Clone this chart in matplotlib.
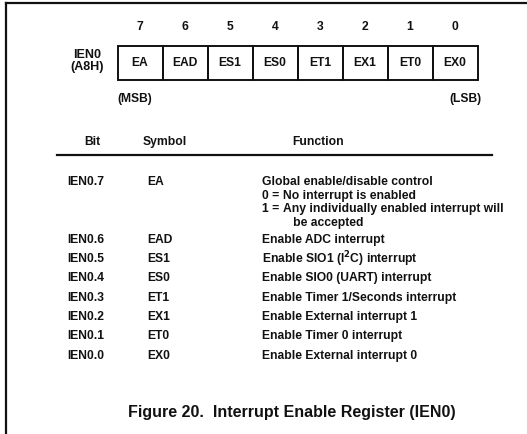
import matplotlib.pyplot as plt
from matplotlib.patches import Rectangle

plt.rcParams['font.family'] = ['Liberation Sans', 'DejaVu Sans']

# register layout data
bit_numbers = [7, 6, 5, 4, 3, 2, 1, 0]
bit_symbols = ['EA', 'EAD', 'ES1', 'ES0', 'ET1', 'EX1', 'ET0', 'EX0']
reg_name = 'IEN0\n(A8H)'

# table data
table_bits = ['IEN0.7', 'IEN0.6', 'IEN0.5', 'IEN0.4', 'IEN0.3', 'IEN0.2', 'IEN0.1', 'IEN0.0']
table_symbols = ['EA', 'EAD', 'ES1', 'ES0', 'ET1', 'EX1', 'ET0', 'EX0']
table_functions = [
    'Global enable/disable control',
    'Enable ADC interrupt',
    'Enable SIO1 (I$^{\\mathbf{2}}$C) interrupt',
    'Enable SIO0 (UART) interrupt',
    'Enable Timer 1/Seconds interrupt',
    'Enable External interrupt 1',
    'Enable Timer 0 interrupt',
    'Enable External interrupt 0',
]
ea_details = [('0 =', 'No interrupt is enabled'),
              ('1 =', 'Any individually enabled interrupt will'),
              ('', '   be accepted')]
caption = 'Figure 20.  Interrupt Enable Register (IEN0)'

ink = '#111111'
fs = 8.7

fig = plt.figure(figsize=(5.27, 4.34), dpi=100)
ax = fig.add_axes([0, 0, 1, 1])
ax.set_xlim(0, 527)
ax.set_ylim(434, 0)
ax.axis('off')

# frame: top and left edges only
ax.plot([5.5, 527], [3, 3], color=ink, lw=1.6)
ax.plot([5.5, 5.5], [3, 434], color=ink, lw=1.6)

# register box
cell_w = 45
box_x0 = 117.5
box_y0, box_y1 = 45.5, 80
for i, (num, sym) in enumerate(zip(bit_numbers, bit_symbols)):
    x0 = box_x0 + i * cell_w
    ax.add_patch(Rectangle((x0, box_y0), cell_w, box_y1 - box_y0,
                           fill=False, ec=ink, lw=1.4))
    cx = x0 + cell_w / 2
    ax.text(cx, 27, str(num), ha='center', va='center', fontsize=fs,
            fontweight='bold', color=ink)
    ax.text(cx, (box_y0 + box_y1) / 2, sym, ha='center', va='center',
            fontsize=fs, fontweight='bold', color=ink)

ax.text(87, 61, reg_name, ha='center', va='center', fontsize=9,
        fontweight='bold', color=ink, linespacing=1.0)
ax.text(box_x0, 99, '(MSB)', ha='left', va='center', fontsize=fs,
        fontweight='bold', color=ink)
ax.text(box_x0 + 8 * cell_w + 4, 99, '(LSB)', ha='right', va='center', fontsize=fs,
        fontweight='bold', color=ink)

# table header
col_bit, col_sym, col_fun = 67, 147, 262
ax.text(92, 142, 'Bit', ha='center', va='center', fontsize=fs,
        fontweight='bold', color=ink)
ax.text(143, 142, 'Symbol', ha='left', va='center', fontsize=fs,
        fontweight='bold', color=ink)
ax.text(318, 142, 'Function', ha='center', va='center', fontsize=fs,
        fontweight='bold', color=ink)
ax.plot([57, 492], [155, 155], color=ink, lw=1.6)

# table rows
row_y = [182, 240, 259, 278, 298, 317, 336, 356]
for y, b, s, f in zip(row_y, table_bits, table_symbols, table_functions):
    ax.text(col_bit, y, b, ha='left', va='center', fontsize=fs,
            fontweight='bold', color=ink)
    ax.text(col_sym, y, s, ha='left', va='center', fontsize=fs,
            fontweight='bold', color=ink)
    ax.text(col_fun, y, f, ha='left', va='center', fontsize=fs,
            fontweight='bold', color=ink)

for k, (lhs, rhs) in enumerate(ea_details):
    y = row_y[0] + 13.7 * (k + 1)
    if lhs:
        ax.text(col_fun, y, lhs, ha='left', va='center', fontsize=fs,
                fontweight='bold', color=ink)
    ax.text(col_fun + 21, y, rhs, ha='left', va='center', fontsize=fs,
            fontweight='bold', color=ink)

ax.text(292, 412, caption, ha='center', va='center', fontsize=11.5,
        fontweight='bold', color=ink)

fig.savefig('out.png', dpi=100, facecolor='white')
